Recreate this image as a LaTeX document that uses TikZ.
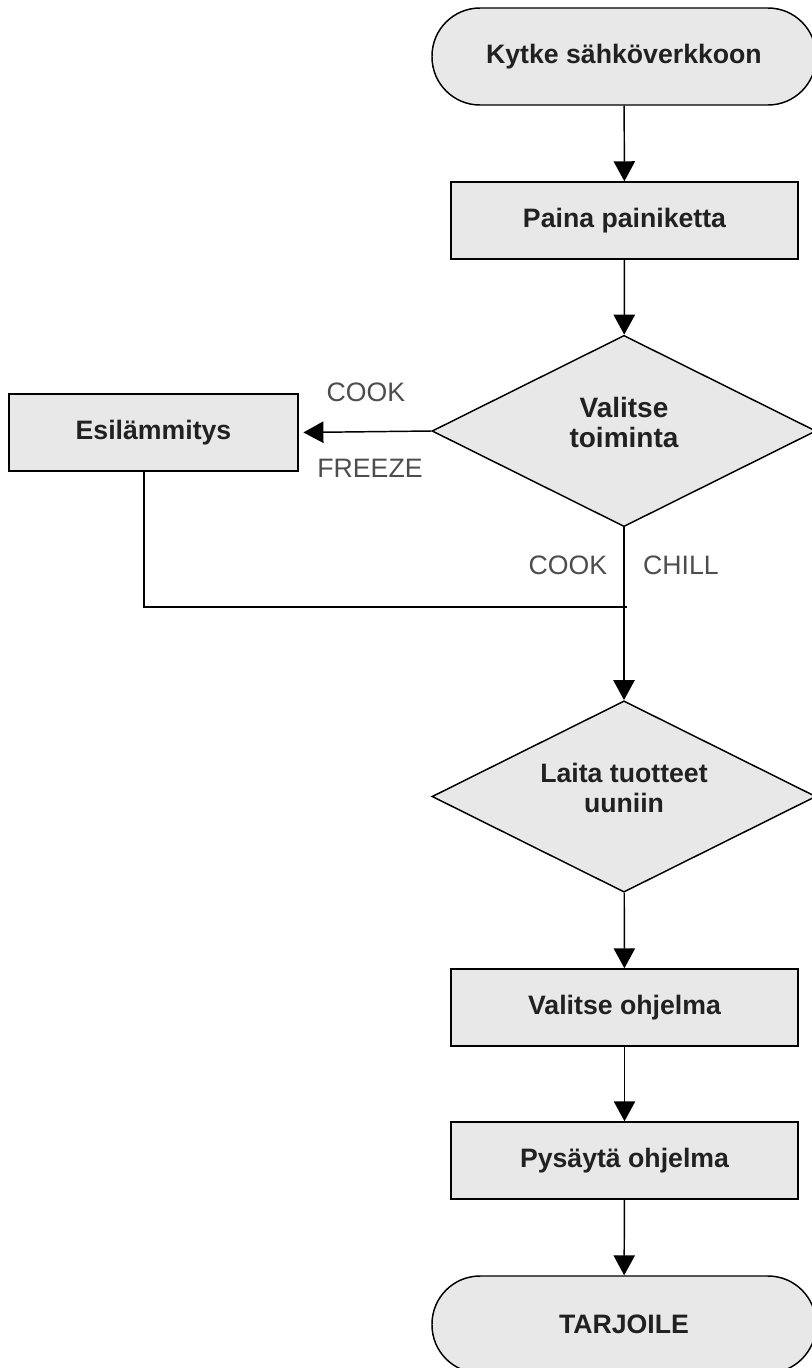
\documentclass[tikz,border=0pt]{standalone}
\usepackage{fontspec}
\setmainfont{Liberation Sans}
\usetikzlibrary{shapes.geometric,arrows.meta}

\definecolor{boxgray}{HTML}{E8E8E8}
\definecolor{labelgray}{HTML}{4D4D4D}

\tikzset{
    base/.style={draw, line width=1.1pt, fill=boxgray, inner sep=0pt, align=center,
        text=black!87, font=\fontsize{20}{22}\selectfont\bfseries},
    term/.style={base, rectangle, rounded corners=36pt, minimum width=288pt, minimum height=72.75pt},
    proc/.style={base, rectangle, minimum width=260.25pt, minimum height=57.75pt},
    decide/.style={base, diamond, aspect=2, text depth=13pt, minimum width=288pt, minimum height=143.5pt},
    lbl/.style={text=labelgray, font=\fontsize{20}{22}\selectfont},
    flow/.style={line width=1.1pt, -{Triangle[length=15pt,width=16pt]}},
    plain/.style={line width=1.1pt},
}

\begin{document}
\begin{tikzpicture}[x=0.75pt, y=-0.75pt]
    \useasboundingbox (0,0) rectangle (811,1368);

    \node[term] (start) at (624, 56.5) {Kytke sähköverkkoon};
    \node[proc] (paina) at (624.5, 220.5) {Paina painiketta};
    \node[decide, font=\fontsize{21}{23}\selectfont\bfseries] (valinta) at (624, 431) {Valitse\\toiminta};
    \node[proc, minimum width=216.75pt] (esil) at (153.5, 432.5) {Esilämmitys};
    \node[decide] (laita) at (624, 796.5) {Laita tuotteet\\uuniin};
    \node[proc] (ohjelma) at (624.5, 1007.5) {Valitse ohjelma};
    \node[proc] (pysayta) at (624.5, 1160.5) {Pysäytä ohjelma};
    \node[term] (loppu) at (624, 1324.5) {TARJOILE};

    \coordinate (join) at (627, 607);

    \node[lbl] (cook1) at (366, 392) {COOK};
    \node[lbl] (freeze) at (370, 468) {FREEZE};
    \node[lbl] (cook2) at (568, 565) {COOK};
    \node[lbl] (chill) at (681, 565) {CHILL};

    \draw[flow] (start) -- (paina);
    \draw[flow] (paina) -- (valinta);
    \draw[flow, shorten >=3.5pt] (valinta.west) -- (esil.east);
    \draw[plain] ([xshift=-7.1pt]esil.south) |- (join);
    \draw[flow] (valinta) -- (laita);
    \draw[flow] (laita) -- (ohjelma);
    \draw[flow] (ohjelma) -- (pysayta);
    \draw[flow] (pysayta) -- (loppu);
\end{tikzpicture}
\end{document}
